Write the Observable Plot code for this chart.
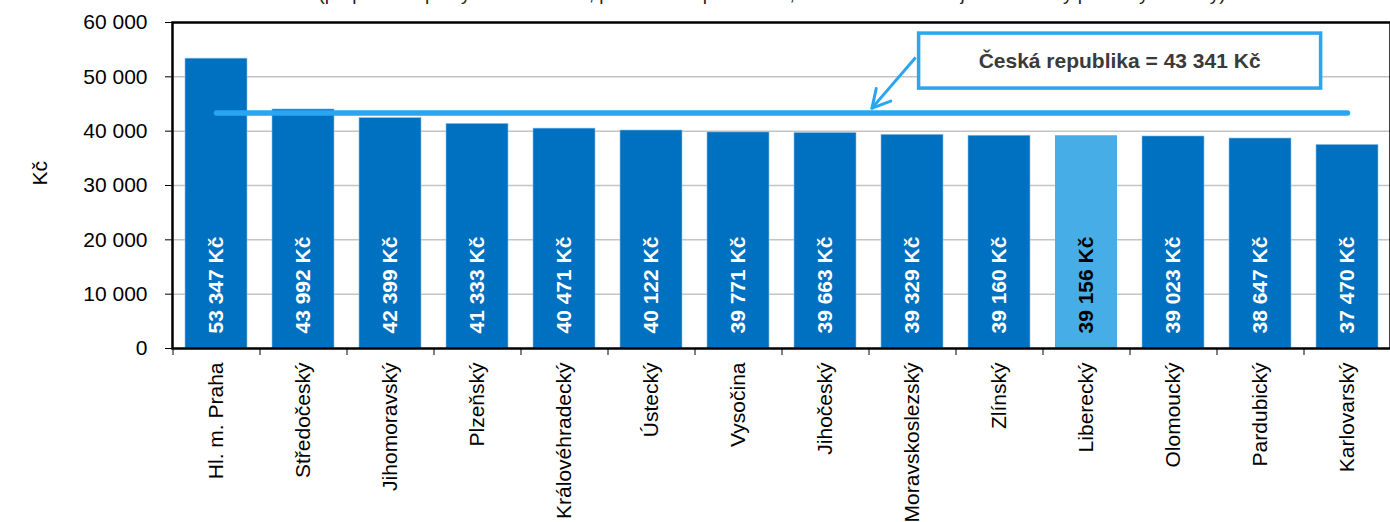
<!DOCTYPE html>
<html><head><meta charset="utf-8">
<script src="https://cdn.jsdelivr.net/npm/d3@7"></script>
<script src="https://cdn.jsdelivr.net/npm/@observablehq/plot@0.6"></script>
<style>
body{margin:0;background:#fff;font-family:"Liberation Sans",Arial,sans-serif;}
#wrap{position:relative;width:1390px;height:522px;overflow:hidden;background:#fff;}
#sub{position:absolute;top:-16px;left:77px;width:1390px;text-align:center;font-size:19px;line-height:20px;color:#222;white-space:nowrap;}
</style></head><body>
<div id="wrap"><div id="chart"></div><div id="sub"></div></div>
<script>
// ---- data ----
const regions = ["Hl. m. Praha","Středočeský","Jihomoravský","Plzeňský","Královéhradecký","Ústecký","Vysočina","Jihočeský","Moravskoslezský","Zlínský","Liberecký","Olomoucký","Pardubický","Karlovarský"];
const wages = [53347,43992,42399,41333,40471,40122,39771,39663,39329,39160,39156,39023,38647,37470];
const highlight = "Liberecký";
const czAverage = 43341;
const yTicks = [0,10000,20000,30000,40000,50000,60000];
const yLabel = "Kč";
const noteText = "Česká republika = 43 341 Kč";
const noteAnchor = {region: "Olomoucký", value: 52900};
const arrowTip = {region: "Moravskoslezský", value: 44150};
const subtitle = "(přepočtené počty zaměstnanců, podle místa pracoviště, medián mezd v krajích seřazený podle výše mzdy)";

document.getElementById("sub").textContent = subtitle;

const data = regions.map((r, i) => ({region: r, value: wages[i]}));
const avgLine = [{region: regions[0], value: czAverage}, {region: regions[regions.length - 1], value: czAverage}];
const fmt = d3.formatLocale({decimal: ",", thousands: " ", grouping: [3], currency: ["", ""]}).format(",");

const W = 1390, H = 522, mL = 172, mR = 0, mT = 22, mB = 174;
const font = "'Liberation Sans', Arial, sans-serif";
const darkBlue = "#0070c0", lightBlue = "#47ade6", lineBlue = "#2aa5f2";
const step = (W - mL - mR) / regions.length;
const tickLenValue = 7 * 60000 / (H - mT - mB);

const chart = Plot.plot({
  width: W, height: H,
  marginLeft: mL, marginRight: mR, marginTop: mT, marginBottom: mB,
  style: {fontFamily: font, fontSize: "21px", color: "#000", background: "white", overflow: "visible"},
  x: {domain: regions, paddingInner: 0.29, paddingOuter: 0.145, align: 0.5, tickSize: 0, tickPadding: 14, tickRotate: -90, label: null},
  y: {domain: [0, 60000], ticks: yTicks, tickFormat: fmt, tickSize: 7, tickPadding: 18, label: null},
  marks: [
    Plot.gridY(yTicks.filter(t => t > 0 && t < 60000), {stroke: "#c4c4c4", strokeOpacity: 1, strokeWidth: 1.5}),
    Plot.barY(data, {filter: d => d.region !== highlight, x: "region", y: "value", fill: darkBlue, stroke: "#8fbfe6", strokeWidth: 0.6}),
    Plot.barY(data, {filter: d => d.region === highlight, x: "region", y: "value", fill: lightBlue}),
    Plot.text(data, {x: "region", y: 0, text: d => fmt(d.value) + " Kč", rotate: -90, textAnchor: "start", dy: -15,
      fill: d => d.region === highlight ? "#000" : "#fff", fontWeight: "bold", fontSize: 21}),
    Plot.line(avgLine, {x: "region", y: "value", stroke: lineBlue, strokeWidth: 5.5, strokeLinecap: "round"}),
    Plot.ruleX(regions, {x: d => d, y1: 0, y2: -tickLenValue, dx: -step / 2, stroke: "#000", strokeWidth: 1}),
    Plot.frame({stroke: "#000", strokeWidth: 2.5}),
    Plot.text([yLabel], {frameAnchor: "left", dx: -132, rotate: -90, fontSize: 21, fill: "#000"})
  ]
});
document.getElementById("chart").appendChild(chart);

// annotation (box + arrow) placed through scales built with the same parameters
const xs = d3.scaleBand().domain(regions).range([mL, W - mR]).paddingInner(0.29).paddingOuter(0.145).align(0.5);
const ys = d3.scaleLinear().domain([0, 60000]).range([H - mB, mT]);
const svg = d3.select(chart);
const g = svg.append("g");
const cx = xs(noteAnchor.region) - 22, cy = ys(noteAnchor.value);
const bw = 402, bh = 55;
const sx = cx - bw / 2 - 3, sy = cy - 3;
const tx = xs(arrowTip.region) + 4 - step * 0.145, ty = ys(arrowTip.value);
g.append("line").attr("x1", sx).attr("y1", sy).attr("x2", tx).attr("y2", ty)
  .attr("stroke", lineBlue).attr("stroke-width", 3);
const ang = Math.atan2(sy - ty, sx - tx);
[0.5, -0.5].forEach(a => {
  g.append("line").attr("x1", tx).attr("y1", ty)
    .attr("x2", tx + 20 * Math.cos(ang + a)).attr("y2", ty + 20 * Math.sin(ang + a))
    .attr("stroke", lineBlue).attr("stroke-width", 3).attr("stroke-linecap", "round");
});
g.append("rect").attr("x", cx - bw / 2).attr("y", cy - bh / 2).attr("width", bw).attr("height", bh)
  .attr("fill", "#fff").attr("stroke", lineBlue).attr("stroke-width", 3.5);
g.append("text").attr("x", cx).attr("y", cy).attr("text-anchor", "middle").attr("dy", "0.35em")
  .attr("font-family", font).attr("font-size", 21).attr("font-weight", "bold").attr("fill", "#3a3a3a")
  .text(noteText);
</script>
</body></html>
